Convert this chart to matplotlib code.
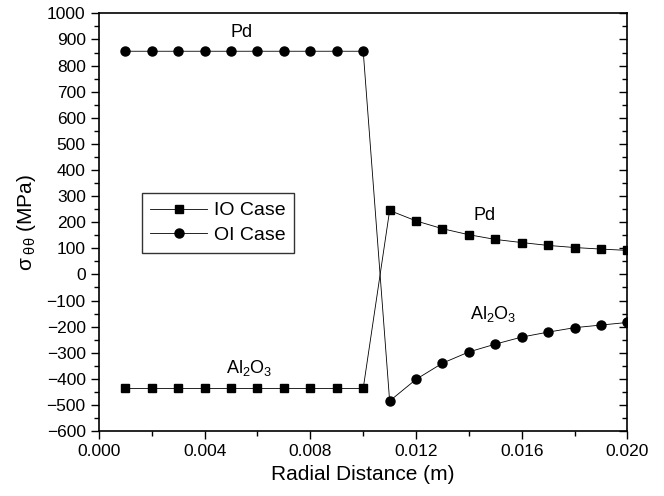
import numpy as np
import matplotlib
matplotlib.use("Agg")
import matplotlib.pyplot as plt
from matplotlib.ticker import MultipleLocator

plt.rcParams['font.family'] = ['Liberation Sans', 'DejaVu Sans']
plt.rcParams['mathtext.fontset'] = 'custom'
plt.rcParams['mathtext.rm'] = 'Liberation Sans'
plt.rcParams['mathtext.it'] = 'Liberation Sans'

x = [0.001, 0.002, 0.003, 0.004, 0.005, 0.006, 0.007, 0.008, 0.009, 0.010,
     0.011, 0.012, 0.013, 0.014, 0.015, 0.016, 0.017, 0.018, 0.019, 0.020]
io_case = [-437, -437, -437, -437, -437, -437, -437, -437, -437, -437,
           245, 205, 175, 152, 134, 122, 111, 103, 97, 92]
oi_case = [855, 855, 855, 855, 855, 855, 855, 855, 855, 855,
           -485, -402, -340, -297, -267, -240, -221, -204, -194, -184]

fig = plt.figure(figsize=(6.64, 4.96), dpi=100)
ax = fig.add_axes([0.149, 0.131, 0.796, 0.842])

ax.plot(x, io_case, 'k-', marker='s', markersize=5.6, linewidth=0.6, label='IO Case')
ax.plot(x, oi_case, 'k-', marker='o', markersize=6.5, linewidth=0.6, label='OI Case')

ax.set_xlim(0.0, 0.020)
ax.set_ylim(-600, 1000)
ax.xaxis.set_major_locator(MultipleLocator(0.004))
ax.xaxis.set_minor_locator(MultipleLocator(0.002))
ax.yaxis.set_major_locator(MultipleLocator(100))
ax.yaxis.set_minor_locator(MultipleLocator(50))
ax.xaxis.set_major_formatter(plt.FormatStrFormatter('%.3f'))

ax.tick_params(axis='both', which='major', direction='out', length=6, width=1, labelsize=12.5)
ax.tick_params(axis='both', which='minor', direction='out', length=3.5, width=1)
ax.tick_params(axis='y', which='both', right=True, labelright=False)
for t in ax.yaxis.get_ticklines(minor=False)[1::2] + ax.yaxis.get_ticklines(minor=True)[1::2]:
    t.set_marker(matplotlib.lines.TICKLEFT)
for s in ax.spines.values():
    s.set_linewidth(1.2)

ax.set_xlabel('Radial Distance (m)', fontsize=15)
ax.set_ylabel(r'$\sigma_{\ \theta\theta}$ (MPa)', fontsize=15, labelpad=6)

ax.text(0.0054, 908, 'Pd', fontsize=13, ha='center')
ax.text(0.0146, 210, 'Pd', fontsize=13, ha='center')
ax.text(0.0057, -378, r'Al$_2$O$_3$', fontsize=13, ha='center')
ax.text(0.0149, -170, r'Al$_2$O$_3$', fontsize=13, ha='center')

leg = ax.legend(loc='upper left', bbox_to_anchor=(0.081, 0.57), fontsize=14,
                frameon=True, fancybox=False, edgecolor='black',
                handlelength=2.9, borderpad=0.45, labelspacing=0.35, handletextpad=0.35,
                borderaxespad=0)
leg.get_frame().set_linewidth(1.0)

fig.savefig('out.png', dpi=100)
